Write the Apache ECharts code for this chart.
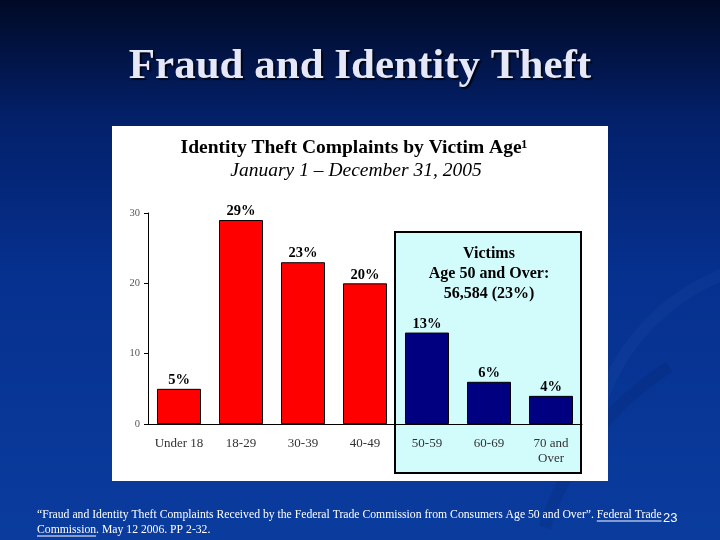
<!DOCTYPE html>
<html>
<head>
<meta charset="utf-8">
<script src="https://cdn.jsdelivr.net/npm/echarts@6/dist/echarts.min.js"></script>
<style>
html,body{margin:0;padding:0;background:#06287a;}
#c{width:720px;height:540px;}
</style>
</head>
<body>
<div id="c"></div>
<script>
// ---- data ----
var ageCategories = ['Under 18', '18-29', '30-39', '40-49', '50-59', '60-69', '70 and\nOver'];
var complaintShare = [5, 29, 23, 20, 13, 6, 4];
var seniorCategories = ['50-59', '60-69', '70 and\nOver'];
var yTicks = [0, 10, 20, 30];
var slideTitle = 'Fraud and Identity Theft';
var chartTitle = 'Identity Theft Complaints by Victim Age\u00B9';
var chartSubtitle = 'January 1 \u2013 December 31, 2005';
var boxText = ['Victims', 'Age 50 and Over:', '56,584 (23%)'];
var footLine1a = '\u201CFraud and Identity Theft Complaints Received by the Federal Trade Commission from Consumers Age 50 and Over\u201D. ';
var footLine1b = 'Federal Trade';
var footLine2a = 'Commission';
var footLine2b = '. May 12 2006. PP 2-32.';
var pageNumber = '23';

var chart = echarts.init(document.getElementById('c'), null, {renderer: 'canvas'});
var serif = '"Liberation Serif", "Times New Roman", serif';
var footFont = '11.7px ' + serif;

// measure footnote pieces for underline placement
var mctx = document.createElement('canvas').getContext('2d');
mctx.font = footFont;
var w1a = mctx.measureText(footLine1a).width;
var w1b = mctx.measureText(footLine1b).width;
var w2a = mctx.measureText(footLine2a).width;
var fx = 37;

var option = {
  animation: false,
  backgroundColor: {
    type: 'linear', x: 0, y: 0, x2: 0, y2: 1,
    colorStops: [
      {offset: 0, color: '#010a26'},
      {offset: 0.22, color: '#03206a'},
      {offset: 0.5, color: '#06308e'},
      {offset: 1, color: '#0a3c9e'}
    ]
  },
  graphic: [
    // decorative swooshes (subtle)
    {type: 'arc', shape: {cx: 800, cy: 470, r: 210, startAngle: Math.PI * 1.08, endAngle: Math.PI * 1.42},
     style: {stroke: 'rgba(120,150,230,0.05)', lineWidth: 12, fill: null}, z: -20, silent: true},
    {type: 'arc', shape: {cx: 830, cy: 620, r: 300, startAngle: Math.PI * 1.10, endAngle: Math.PI * 1.32},
     style: {stroke: 'rgba(0,10,60,0.10)', lineWidth: 12, fill: null}, z: -20, silent: true},
    // slide title
    {type: 'text', x: 360, y: 67, z: 10,
     style: {text: slideTitle, font: 'bold 43px ' + serif, fill: '#e6e8f8', align: 'center', verticalAlign: 'middle',
             textShadowColor: 'rgba(0,0,0,0.7)', textShadowOffsetX: 2, textShadowOffsetY: 2, textShadowBlur: 1}},
    // white panel
    {type: 'rect', shape: {x: 112, y: 126, width: 496, height: 355}, style: {fill: '#ffffff'}, z: -10},
    // chart titles
    {type: 'text', x: 354, y: 148, z: 10,
     style: {text: chartTitle, font: 'bold 19.5px ' + serif, fill: '#000', align: 'center', verticalAlign: 'middle'}},
    {type: 'text', x: 356, y: 171, z: 10,
     style: {text: chartSubtitle, font: 'italic 19.5px ' + serif, fill: '#000', align: 'center', verticalAlign: 'middle'}},
    // senior highlight box
    {type: 'rect', shape: {x: 395, y: 232, width: 186, height: 241},
     style: {fill: '#d2fbfc', stroke: '#000', lineWidth: 2}, z: -5},
    {type: 'text', x: 489, y: 274, z: 10,
     style: {text: boxText.join('\n'), font: 'bold 16px ' + serif, lineHeight: 20, fill: '#000', align: 'center', verticalAlign: 'middle'}},
    // footnote
    {type: 'text', x: fx, y: 515, z: 10,
     style: {text: footLine1a + footLine1b, font: footFont, fill: '#ffffff', verticalAlign: 'middle'}},
    {type: 'text', x: fx, y: 530, z: 10,
     style: {text: footLine2a + footLine2b, font: footFont, fill: '#ffffff', verticalAlign: 'middle'}},
    {type: 'line', shape: {x1: fx + w1a, y1: 521, x2: fx + w1a + w1b, y2: 521}, style: {stroke: '#fff', lineWidth: 1}, z: 10},
    {type: 'line', shape: {x1: fx, y1: 536, x2: fx + w2a, y2: 536}, style: {stroke: '#fff', lineWidth: 1}, z: 10},
    {type: 'text', x: 663, y: 518, z: 10,
     style: {text: pageNumber, font: '13px "Liberation Sans", Arial, sans-serif', fill: '#ffffff', verticalAlign: 'middle'}}
  ],
  grid: {left: 148, top: 213, width: 434, height: 211, containLabel: false},
  xAxis: {
    type: 'category',
    data: ageCategories,
    axisLine: {lineStyle: {color: '#000', width: 1}},
    axisTick: {show: false},
    axisLabel: {color: '#333', fontFamily: serif, fontSize: 13, margin: 12, lineHeight: 15, interval: 0}
  },
  yAxis: {
    type: 'value',
    min: yTicks[0], max: yTicks[yTicks.length - 1], interval: 10,
    axisLine: {show: true, lineStyle: {color: '#000', width: 1}},
    axisTick: {show: true, length: 4, lineStyle: {color: '#000'}},
    splitLine: {show: false},
    axisLabel: {color: '#555', fontFamily: serif, fontSize: 10.5, margin: 8}
  },
  series: [{
    type: 'bar',
    data: complaintShare,
    barCategoryGap: '29%',
    itemStyle: {
      borderColor: '#000', borderWidth: 1,
      color: function (p) {
        return seniorCategories.indexOf(ageCategories[p.dataIndex]) >= 0 ? '#000080' : '#ff0000';
      }
    },
    label: {
      show: true, position: 'top', distance: 1,
      formatter: '{c}%',
      fontFamily: serif, fontWeight: 'bold', fontSize: 14.5, color: '#000'
    }
  }]
};
chart.setOption(option);
</script>
</body>
</html>
